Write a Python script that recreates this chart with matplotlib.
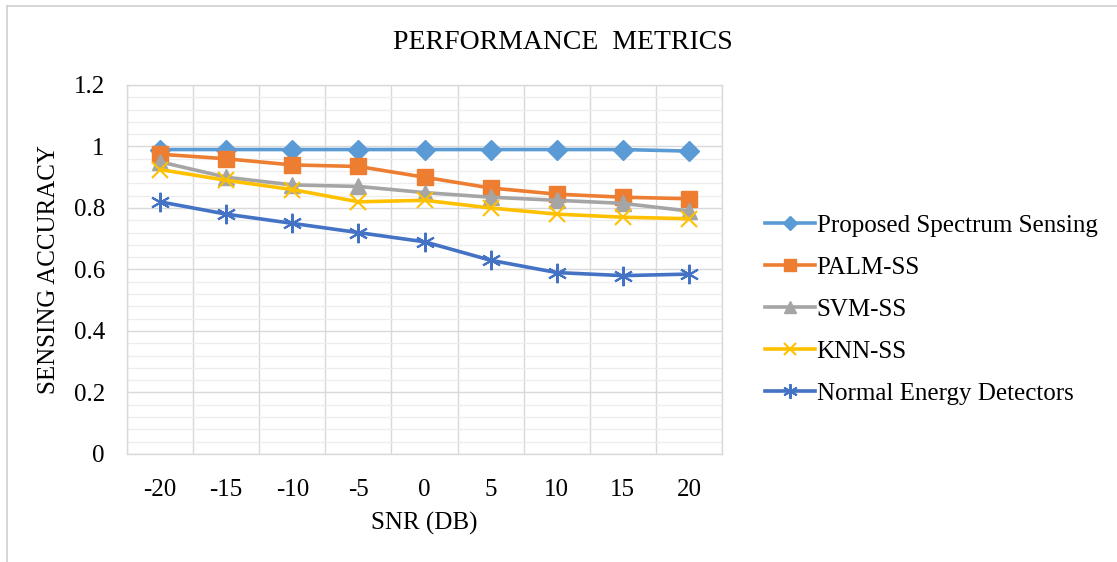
import numpy as np
import matplotlib
matplotlib.use("Agg")
import matplotlib.pyplot as plt
from matplotlib.ticker import MultipleLocator

plt.rcParams['font.family'] = ['Liberation Serif', 'DejaVu Serif']

# data
snr_labels = ["-20", "-15", "-10", "-5", "0", "5", "10", "15", "20"]
proposed = [0.99, 0.99, 0.99, 0.99, 0.99, 0.99, 0.99, 0.99, 0.985]
palm_ss = [0.975, 0.96, 0.94, 0.935, 0.90, 0.865, 0.845, 0.835, 0.83]
svm_ss = [0.95, 0.90, 0.875, 0.87, 0.85, 0.835, 0.825, 0.815, 0.79]
knn_ss = [0.925, 0.89, 0.86, 0.82, 0.825, 0.80, 0.78, 0.77, 0.765]
normal_ed = [0.82, 0.78, 0.75, 0.72, 0.69, 0.63, 0.59, 0.58, 0.585]

series = [
    ("Proposed Spectrum Sensing", proposed, "#5B9BD5", "D", 10),
    ("PALM-SS", palm_ss, "#ED7D31", "s", 11),
    ("SVM-SS", svm_ss, "#A5A5A5", "^", 11),
    ("KNN-SS", knn_ss, "#FFC000", "x", 12),
    ("Normal Energy Detectors", normal_ed, "#4472C4", (6, 2, 0), 14),
]

fig = plt.figure(figsize=(11.17, 5.62), dpi=100)
ax = fig.add_axes([0.1137, 0.1922, 0.5327, 0.6566])

x = np.arange(len(snr_labels))
for name, vals, col, mk, ms in series:
    ax.plot(x, vals, color=col, lw=2.6, marker=mk, markersize=ms,
            markeredgewidth=1.5 if mk in ("x", (6, 2, 0)) else 1.0,
            markeredgecolor=col, markerfacecolor=col, label=name, zorder=3)

ax.set_xlim(-0.5, len(snr_labels) - 0.5)
ax.set_ylim(0, 1.2)
ax.set_xticks(x)
ax.set_xticklabels(snr_labels)
ax.xaxis.set_minor_locator(MultipleLocator(1, offset=0.5))
ax.yaxis.set_major_locator(MultipleLocator(0.2))
ax.yaxis.set_minor_locator(MultipleLocator(0.04))
ax.yaxis.set_major_formatter(lambda v, p: "0" if abs(v) < 1e-9 else ("1" if abs(v - 1) < 1e-9 else f"{v:.1f}"))

ax.grid(which="major", axis="y", color="#D9D9D9", lw=1.0, zorder=0)
ax.grid(which="minor", axis="y", color="#EDEDED", lw=0.9, zorder=0)
ax.grid(which="minor", axis="x", color="#D9D9D9", lw=1.0, zorder=0)
for s in ax.spines.values():
    s.set_color("#D9D9D9")
    s.set_linewidth(1.0)
ax.tick_params(which="both", length=0)
ax.tick_params(axis="x", labelsize=18, pad=18)
ax.tick_params(axis="y", labelsize=18, pad=16)

ax.set_xlabel("SNR (DB)", fontsize=18, labelpad=8)
ax.set_ylabel("SENSING ACCURACY", fontsize=18, labelpad=10)

fig.text(0.504, 0.925, "PERFORMANCE  METRICS", ha="center", va="center", fontsize=20)

ax.legend(loc="center left", bbox_to_anchor=(0.665, 0.449), bbox_transform=fig.transFigure,
          frameon=False, fontsize=18, handlelength=2.0, handletextpad=0.05,
          labelspacing=0.78, markerscale=0.75)

# light outer frame (left and top edges visible in the reference)
fig.add_artist(plt.Line2D([0.0065, 0.0065], [0.0, 0.99], transform=fig.transFigure, color="#D0D0D0", lw=1.2))
fig.add_artist(plt.Line2D([0.0065, 1.0], [0.99, 0.99], transform=fig.transFigure, color="#D0D0D0", lw=1.2))

fig.savefig("out.png", dpi=100, facecolor="white")
